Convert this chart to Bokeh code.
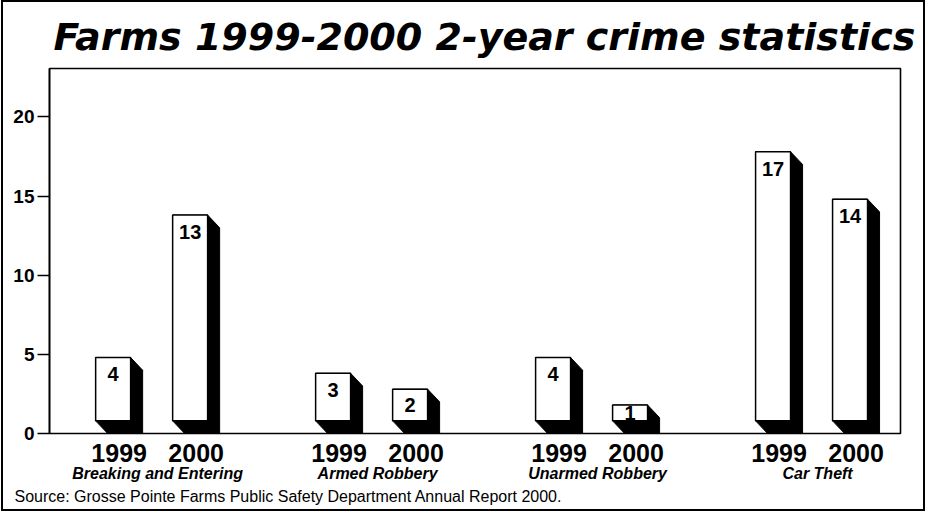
from bokeh.plotting import figure
from bokeh.models import Range1d, FixedTicker, LinearAxis, Title, ColumnDataSource
from bokeh.core.properties import value
from bokeh.embed import file_html
from bokeh.resources import INLINE

# ---- data ----
categories = ["Breaking and Entering", "Armed Robbery", "Unarmed Robbery", "Car Theft"]
years = ["1999", "2000"]
counts_1999 = [4, 3, 4, 17]
counts_2000 = [13, 2, 1, 14]
y_ticks = [0, 5, 10, 15, 20]
title_text = "Farms 1999-2000 2-year crime statistics"
source_text = "Source: Grosse Pointe Farms Public Safety Department Annual Report 2000."

# ---- layout constants (x unit = one category group) ----
half_gap = 0.175      # offset of each year's bar from group centre
face_w = 0.159        # width of the white front face
dx = 0.0546           # 3D depth, x (group units)
dy = 0.80             # 3D depth, y (data units)
label_drop = 1.06     # value label centre below face top (data units)

FONT = "Liberation Sans"

bar_x, bar_v, bar_lbl = [], [], []
for g, cat in enumerate(categories):
    for j, vals in enumerate([counts_1999, counts_2000]):
        bar_x.append(g + (j - 0.5) * 2 * half_gap)
        bar_v.append(vals[g])
        bar_lbl.append(years[j])

x0s, x1s, bots, tops, sxs, sys_, fcx, lys = [], [], [], [], [], [], [], []
for c, v in zip(bar_x, bar_v):
    x0 = c - face_w / 2 - dx / 2
    x1 = x0 + face_w
    yb = dy
    yt = v + dy
    x0s.append(x0); x1s.append(x1); bots.append(yb); tops.append(yt)
    fcx.append((x0 + x1) / 2)
    lys.append(yt - min(label_drop, v / 2))
    sxs.append([x0, x1, x1 + dx, x1 + dx, x0 + dx, x0])
    sys_.append([yt, yt, yt - dy, 0, 0, yb])

p = figure(width=924, height=511, output_backend="svg", toolbar_location=None,
           x_range=Range1d(-0.4916, 3.377), y_range=Range1d(0, 23.06),
           min_border_left=46, min_border_right=27, min_border_top=0, min_border_bottom=80)
p.styles = {"border": "2px solid black", "margin-left": "1px"}

p.title.text = title_text
p.title.text_font = "DejaVu Sans"
p.title.text_font_size = "38px"
p.title.text_font_style = "bold italic"
p.title.text_color = "black"
p.title.align = "left"
p.title.offset = 4
p.title.standoff = 20

p.grid.visible = False
p.outline_line_color = "black"
p.outline_line_width = 1.6
p.background_fill_color = "white"
p.border_fill_color = "white"

# shadows / depth
p.patches(xs=sxs, ys=sys_, fill_color="black", line_color="black", line_width=1)
# front faces
p.quad(left=x0s, right=x1s, bottom=bots, top=tops, fill_color="white",
       line_color="black", line_width=1.5)
# value labels
src = ColumnDataSource(dict(x=fcx, y=lys, t=[str(v) for v in bar_v]))
p.text(x="x", y="y", text="t", source=src, text_align="center", text_baseline="middle",
       text_font=value(FONT), text_font_style="bold", text_font_size="20px",
       text_color="black")

# y axis
ya = p.yaxis[0]
ya.ticker = FixedTicker(ticks=y_ticks)
ya.major_tick_in = 0
ya.major_tick_out = 12
ya.minor_tick_line_color = None
ya.major_tick_line_width = 1.5
ya.axis_line_width = 1.6
ya.major_label_text_font = FONT
ya.major_label_text_font_style = "bold"
ya.major_label_text_font_size = "19px"
ya.major_label_text_color = "black"
ya.major_label_standoff = 3

# year axis
xa = p.xaxis[0]
xa.ticker = FixedTicker(ticks=bar_x)
xa.major_label_overrides = {x: l for x, l in zip(bar_x, bar_lbl)}
xa.major_tick_line_color = None
xa.minor_tick_line_color = None
xa.major_tick_in = 0
xa.major_tick_out = 0
xa.minor_tick_in = 0
xa.minor_tick_out = 0
xa.axis_line_color = None
xa.major_label_standoff = 10
xa.major_label_text_font = FONT
xa.major_label_text_font_style = "bold"
xa.major_label_text_font_size = "25px"
xa.major_label_text_color = "black"

# category axis
ga = LinearAxis(ticker=FixedTicker(ticks=list(range(len(categories)))),
                major_label_overrides={i: c for i, c in enumerate(categories)})
ga.major_tick_line_color = None
ga.minor_tick_line_color = None
ga.major_tick_in = 0
ga.major_tick_out = 0
ga.minor_tick_in = 0
ga.minor_tick_out = 0
ga.axis_line_color = None
ga.major_label_standoff = 0
ga.major_label_text_font = FONT
ga.major_label_text_font_style = "bold italic"
ga.major_label_text_font_size = "16px"
ga.major_label_text_color = "black"
p.add_layout(ga, "below")

# source note
p.add_layout(Title(text=source_text, align="left", offset=-35, text_font=FONT,
                   text_font_size="16px", text_font_style="normal",
                   text_color="black", standoff=2), "below")

open("out.html", "w").write(file_html(p, INLINE))
